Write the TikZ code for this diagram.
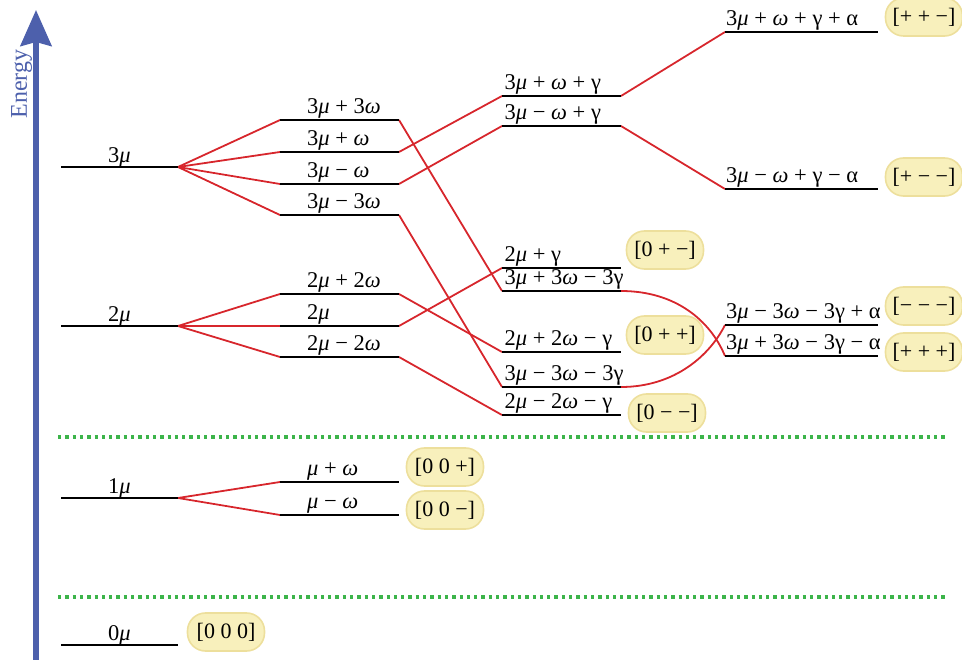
\documentclass[tikz,border=0pt]{standalone}
\usepackage{fontspec}
\setmainfont{Liberation Serif}
\usepackage{tikz}
\usetikzlibrary{arrows.meta, positioning}
\definecolor{splitred}{HTML}{D7262C}
\definecolor{energyblue}{HTML}{4D60AC}
\definecolor{dotgreen}{HTML}{3CB44A}
\definecolor{badgefill}{HTML}{F8F0BC}
\definecolor{badgedraw}{HTML}{EDDF9C}

\begin{document}
\begin{tikzpicture}
  [
    x=1pt, y=-1pt,
    Level/.style={inner sep=0pt, outer sep=0pt, minimum height=0pt, minimum width=119pt},
    Short/.style={Level, minimum width=117pt},
    Wide/.style={Level, minimum width=153pt},
    Bar/.style={draw=black, line width=2.9pt},
    Split/.style={draw=splitred, line width=1.8pt},
    Lab/.style={inner sep=0pt, text depth=0pt, font=\fontsize{22.5}{27}\selectfont},
    Badge/.style={rounded corners=18pt, fill=badgefill, draw=badgedraw, line width=1.6pt, minimum width=77pt, minimum height=38pt, inner sep=0pt, font=\fontsize{22}{26}\selectfont},
    Sep/.style={draw=dotgreen, line width=3.3pt, dash pattern=on 3.3pt off 4pt},
    Axis/.style={draw=energyblue, line width=5.5pt, -{Stealth[length=36pt, width=31pt, inset=4pt]}}
  ]
  \useasboundingbox (0,0) rectangle (962,660);

  % Energy axis
  \coordinate (ebase) at (36, 662);
  \coordinate (etip) at (36, 10);
  \path [Axis] (ebase) -- (etip);
  \node[rotate=90, anchor=base, text=energyblue, inner sep=0pt, font=\fontsize{24}{28}\selectfont] (elab) at (27, 84) {Energy};

  % Separators
  \coordinate (s1a) at (58, 437);
  \coordinate (s1b) at (947, 437);
  \coordinate (s2a) at (58, 597);
  \coordinate (s2b) at (947, 597);
  \path [Sep] (s1a) -- (s1b);
  \path [Sep] (s2a) -- (s2b);

  % Nodes
  \node[Short] (m3) at(119.5, 167) {};
  \node[Short] (m2) at(119.5, 326) {};
  \node[Short] (m1) at(119.5, 498) {};
  \node[Short] (m0) at(119.5, 645) {};

  \node[Level] (m3pp) at(339.5, 120) {};
  \node[Level] (m3p) at(339.5, 152) {};
  \node[Level] (m3m) at(339.5, 184) {};
  \node[Level] (m3mm) at(339.5, 215) {};
  \node[Level] (m2p) at(339.5, 294) {};
  \node[Level] (m2z) at(339.5, 326) {};
  \node[Level] (m2m) at(339.5, 357) {};
  \node[Level] (m1p) at(339.5, 482) {};
  \node[Level] (m1m) at(339.5, 515) {};

  \node[Level] (g3p) at(561.5, 96) {};
  \node[Level] (g3m) at(561.5, 126) {};
  \node[Level] (g2) at(561.5, 268) {};
  \node[Level] (g3pp) at(561.5, 291) {};
  \node[Level] (g2p) at(561.5, 352) {};
  \node[Level] (g3mm) at(561.5, 387) {};
  \node[Level] (g2m) at(561.5, 415) {};

  \node[Wide] (a3p) at(801.5, 32) {};
  \node[Wide] (a3m) at(801.5, 189) {};
  \node[Wide] (a3mm) at(801.5, 325) {};
  \node[Wide] (a3pp) at(801.5, 356) {};

  % Labels
  \node[Lab, above=4.5pt of m3] (t3) {3\textit{μ}};
  \node[Lab, above=4.5pt of m2] (t2) {2\textit{μ}};
  \node[Lab, above=4.5pt of m1] (t1) {1\textit{μ}};
  \node[Lab, above=4.5pt of m0] (t0) {0\textit{μ}};

  \node[Lab, above right=6pt and 27pt of m3pp.west] (t3pp) {3\textit{μ} + 3\textit{ω}};
  \node[Lab, above right=6pt and 27pt of m3p.west] (t3p) {3\textit{μ} + \textit{ω}};
  \node[Lab, above right=6pt and 27pt of m3m.west] (t3m) {3\textit{μ} − \textit{ω}};
  \node[Lab, above right=6pt and 27pt of m3mm.west] (t3mm) {3\textit{μ} − 3\textit{ω}};
  \node[Lab, above right=6pt and 27pt of m2p.west] (t2p) {2\textit{μ} + 2\textit{ω}};
  \node[Lab, above right=6pt and 27pt of m2z.west] (t2z) {2\textit{μ}};
  \node[Lab, above right=6pt and 27pt of m2m.west] (t2m) {2\textit{μ} − 2\textit{ω}};
  \node[Lab, above right=6pt and 27pt of m1p.west] (t1p) {\textit{μ} + \textit{ω}};
  \node[Lab, above right=6pt and 27pt of m1m.west] (t1m) {\textit{μ} − \textit{ω}};

  \node[Lab, above right=6pt and 2.5pt of g3p.west] (u3p) {3\textit{μ} + \textit{ω} + γ};
  \node[Lab, above right=6pt and 2.5pt of g3m.west] (u3m) {3\textit{μ} − \textit{ω} + γ};
  \node[Lab, above right=6pt and 2.5pt of g2.west] (u2) {2\textit{μ} + γ};
  \node[Lab, above right=6pt and 2.5pt of g3pp.west] (u3pp) {3\textit{μ} + 3\textit{ω} − 3γ};
  \node[Lab, above right=6pt and 2.5pt of g2p.west] (u2p) {2\textit{μ} + 2\textit{ω} − γ};
  \node[Lab, above right=6pt and 2.5pt of g3mm.west] (u3mm) {3\textit{μ} − 3\textit{ω} − 3γ};
  \node[Lab, above right=6pt and 2.5pt of g2m.west] (u2m) {2\textit{μ} − 2\textit{ω} − γ};

  \node[Lab, above right=6pt and 1pt of a3p.west] (v3p) {3\textit{μ} + \textit{ω} + γ + α};
  \node[Lab, above right=6pt and 1pt of a3m.west] (v3m) {3\textit{μ} − \textit{ω} + γ − α};
  \node[Lab, above right=6pt and 1pt of a3mm.west] (v3mm) {3\textit{μ} − 3\textit{ω} − 3γ + α};
  \node[Lab, above right=6pt and 1pt of a3pp.west] (v3pp) {3\textit{μ} + 3\textit{ω} − 3γ − α};

  % Badges
  \node[Badge] (bppm) at(924, 17) {[+ + −]};
  \node[Badge] (bpmm) at(924, 177) {[+ − −]};
  \node[Badge] (bmmm) at(924, 306) {[− − −]};
  \node[Badge] (bppp) at(924, 352) {[+ + +]};
  \node[Badge] (b0pm) at(665, 250) {[0 + −]};
  \node[Badge] (b0pp) at(665, 335) {[0 + +]};
  \node[Badge] (b0mm) at(667, 413) {[0 − −]};
  \node[Badge] (b00p) at(445, 467) {[0 0 +]};
  \node[Badge] (b00m) at(445, 510) {[0 0 −]};
  \node[Badge] (b000) at(226, 632) {[0 0 0]};

  % Lines
  \path [Split] (m3.east) -- (m3pp.west);
  \path [Split] (m3.east) -- (m3p.west);
  \path [Split] (m3.east) -- (m3m.west);
  \path [Split] (m3.east) -- (m3mm.west);
  \path [Split] (m2.east) -- (m2p.west);
  \path [Split] (m2.east) -- (m2z.west);
  \path [Split] (m2.east) -- (m2m.west);
  \path [Split] (m1.east) -- (m1p.west);
  \path [Split] (m1.east) -- (m1m.west);

  \path [Split] (m3pp.east) -- (g3pp.west);
  \path [Split] (m3p.east) -- (g3p.west);
  \path [Split] (m3m.east) -- (g3m.west);
  \path [Split] (m3mm.east) -- (g3mm.west);
  \path [Split] (m2p.east) -- (g2p.west);
  \path [Split] (m2z.east) -- (g2.west);
  \path [Split] (m2m.east) -- (g2m.west);

  \path [Split] (g3p.east) -- (a3p.west);
  \path [Split] (g3m.east) -- (a3m.west);
  \path [Split] (g3pp.east) .. controls +(54, 0) and +(-15, -36) .. (a3pp.west);
  \path [Split] (g3mm.east) .. controls +(54, 0) and +(-15, 30) .. (a3mm.west);

  % Levels
  \path [Bar] (m3.west) -- (m3.east);
  \path [Bar] (m2.west) -- (m2.east);
  \path [Bar] (m1.west) -- (m1.east);
  \path [Bar] (m0.west) -- (m0.east);
  \path [Bar] (m3pp.west) -- (m3pp.east);
  \path [Bar] (m3p.west) -- (m3p.east);
  \path [Bar] (m3m.west) -- (m3m.east);
  \path [Bar] (m3mm.west) -- (m3mm.east);
  \path [Bar] (m2p.west) -- (m2p.east);
  \path [Bar] (m2z.west) -- (m2z.east);
  \path [Bar] (m2m.west) -- (m2m.east);
  \path [Bar] (m1p.west) -- (m1p.east);
  \path [Bar] (m1m.west) -- (m1m.east);
  \path [Bar] (g3p.west) -- (g3p.east);
  \path [Bar] (g3m.west) -- (g3m.east);
  \path [Bar] (g2.west) -- (g2.east);
  \path [Bar] (g3pp.west) -- (g3pp.east);
  \path [Bar] (g2p.west) -- (g2p.east);
  \path [Bar] (g3mm.west) -- (g3mm.east);
  \path [Bar] (g2m.west) -- (g2m.east);
  \path [Bar] (a3p.west) -- (a3p.east);
  \path [Bar] (a3m.west) -- (a3m.east);
  \path [Bar] (a3mm.west) -- (a3mm.east);
  \path [Bar] (a3pp.west) -- (a3pp.east);

\end{tikzpicture}
\end{document}
